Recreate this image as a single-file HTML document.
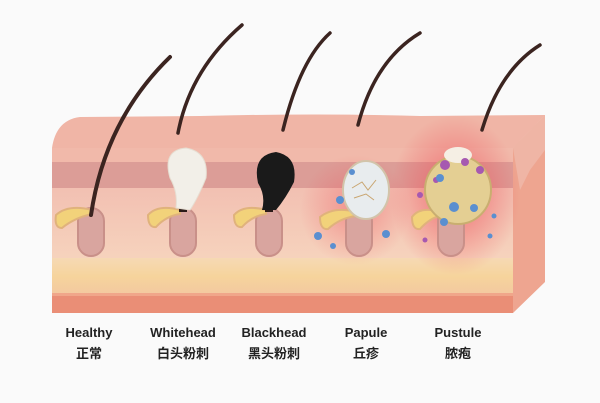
<!DOCTYPE html>
<html><head><meta charset="utf-8"><style>
html,body{margin:0;padding:0;background:#fafafa;width:600px;height:403px;overflow:hidden}
svg{display:block}
text{font-family:"Liberation Sans","Noto Sans CJK SC",sans-serif;font-weight:bold;fill:#222;text-anchor:middle}
</style></head><body>
<svg width="600" height="403" viewBox="0 0 600 403" xmlns="http://www.w3.org/2000/svg">
<defs>
<radialGradient id="red" cx="0.5" cy="0.5" r="0.5"><stop offset="0" stop-color="#ee4a55" stop-opacity="0.7"/><stop offset="1" stop-color="#ee4a55" stop-opacity="0"/></radialGradient>
<linearGradient id="fat" x1="0" y1="0" x2="0" y2="1"><stop offset="0" stop-color="#f6d9b4"/><stop offset="0.5" stop-color="#f6d49c"/><stop offset="1" stop-color="#f3c8a0"/></linearGradient>
<linearGradient id="der" x1="0" y1="0" x2="0" y2="1"><stop offset="0" stop-color="#f2c0b2"/><stop offset="1" stop-color="#f6d3bd"/></linearGradient>
</defs>
<rect width="600" height="403" fill="#fafafa"/>
<path d="M52 148 Q56 120 80 117 L200 116 Q320 113 420 116 L545 115 L513 148 Z" fill="#f0b5a6"/>
<path d="M513 148 L545 115 L545 282 L513 313 Z" fill="#eea590"/>
<path d="M513 148 L545 115 L545 150 L530 170 L520 190 Z" fill="#efb5a5"/>
<rect x="52" y="148" width="461" height="16" fill="#f1b9aa"/>
<rect x="52" y="162" width="461" height="28" fill="#dc9d97"/>
<rect x="52" y="188" width="461" height="72" fill="url(#der)"/>
<rect x="52" y="258" width="461" height="37" fill="url(#fat)"/>
<rect x="52" y="293" width="461" height="20" fill="#ea8e76"/>
<rect x="52" y="293" width="461" height="3" fill="#f0a68a"/>
<ellipse cx="355" cy="210" rx="55" ry="55" fill="url(#red)" opacity="0.6"/>
<ellipse cx="455" cy="195" rx="65" ry="80" fill="url(#red)"/>
<g fill="#d9a59f" stroke="#c99089" stroke-width="2">
<rect x="78" y="208" width="26" height="48" rx="13"/>
<rect x="170" y="208" width="26" height="48" rx="13"/>
<rect x="256" y="208" width="26" height="48" rx="13"/>
<rect x="346" y="208" width="26" height="48" rx="13"/>
<rect x="438" y="208" width="26" height="48" rx="13"/>
</g>
<g fill="#f2d27a" stroke="#e0b27c" stroke-width="2">
<path d="M92 210 Q68 204 56 215 Q54 228 62 228 Q74 218 92 214Z"/>
<path d="M180 210 Q158 204 148 215 Q148 228 156 227 Q166 216 180 214Z"/>
<path d="M266 210 Q244 204 234 215 Q234 228 242 227 Q252 216 266 214Z"/>
<path d="M356 212 Q334 206 320 217 Q320 230 328 229 Q340 218 356 216Z"/>
<path d="M440 212 Q420 206 412 217 Q412 230 420 229 Q430 218 440 216Z"/>
</g>
<g stroke="#3b2420" stroke-linecap="round" fill="none">
<path d="M91 215 Q105 120 170 57" stroke-width="4"/>
<path d="M178 133 Q190 70 242 25" stroke-width="3.5"/>
<path d="M283 130 Q300 60 330 33" stroke-width="3.5"/>
<path d="M358 125 Q375 60 420 33" stroke-width="3.5"/>
<path d="M482 130 Q500 70 540 45" stroke-width="3.5"/>
</g>
<g fill="#2a1a18"><rect x="179" y="208" width="8" height="4"/><rect x="265" y="208" width="8" height="4"/><rect x="355" y="208" width="8" height="4"/><rect x="447" y="208" width="8" height="4"/></g>
<path d="M176 208 Q178 192 170 178 Q162 150 186 148 Q209 152 206 178 Q198 198 190 210 Z" fill="#f2efe8" stroke="#e6ded2"/>
<path d="M262 210 Q266 196 258 183 Q252 155 276 152 Q298 156 294 182 Q286 198 276 210 Z" fill="#1a1a1a"/>
<ellipse cx="366" cy="190" rx="23" ry="29" fill="#e8ecee" stroke="#d2c4aa" stroke-width="2"/>
<path d="M352 188 l10 -6 l6 8 l8 -10 M354 198 l12 -4 l8 6" stroke="#c9a570" fill="none"/>
<ellipse cx="458" cy="190" rx="33" ry="34" fill="#e4cf93" stroke="#c9ae70" stroke-width="2"/>
<ellipse cx="458" cy="155" rx="14" ry="8" fill="#f5efe4"/>
<g fill="#a659b0"><circle cx="445" cy="165" r="5"/><circle cx="465" cy="162" r="4"/><circle cx="480" cy="170" r="4"/><circle cx="436" cy="180" r="3"/><circle cx="420" cy="195" r="3"/><circle cx="425" cy="240" r="2.5"/></g>
<g fill="#5a8fd0"><circle cx="352" cy="172" r="3"/><circle cx="340" cy="200" r="4"/><circle cx="318" cy="236" r="4"/><circle cx="333" cy="246" r="3"/><circle cx="386" cy="234" r="4"/><circle cx="454" cy="207" r="5"/><circle cx="444" cy="222" r="4"/><circle cx="474" cy="208" r="4"/><circle cx="494" cy="216" r="2.5"/><circle cx="490" cy="236" r="2.5"/><circle cx="440" cy="178" r="4"/></g>
<text x="89" y="337" font-size="13">Healthy</text>
<text x="89" y="358" font-size="13">正常</text>
<text x="183" y="337" font-size="13">Whitehead</text>
<text x="183" y="358" font-size="13">白头粉刺</text>
<text x="274" y="337" font-size="13">Blackhead</text>
<text x="274" y="358" font-size="13">黑头粉刺</text>
<text x="366" y="337" font-size="13">Papule</text>
<text x="366" y="358" font-size="13">丘疹</text>
<text x="458" y="337" font-size="13">Pustule</text>
<text x="458" y="358" font-size="13">脓疱</text>
</svg>
</body></html>
